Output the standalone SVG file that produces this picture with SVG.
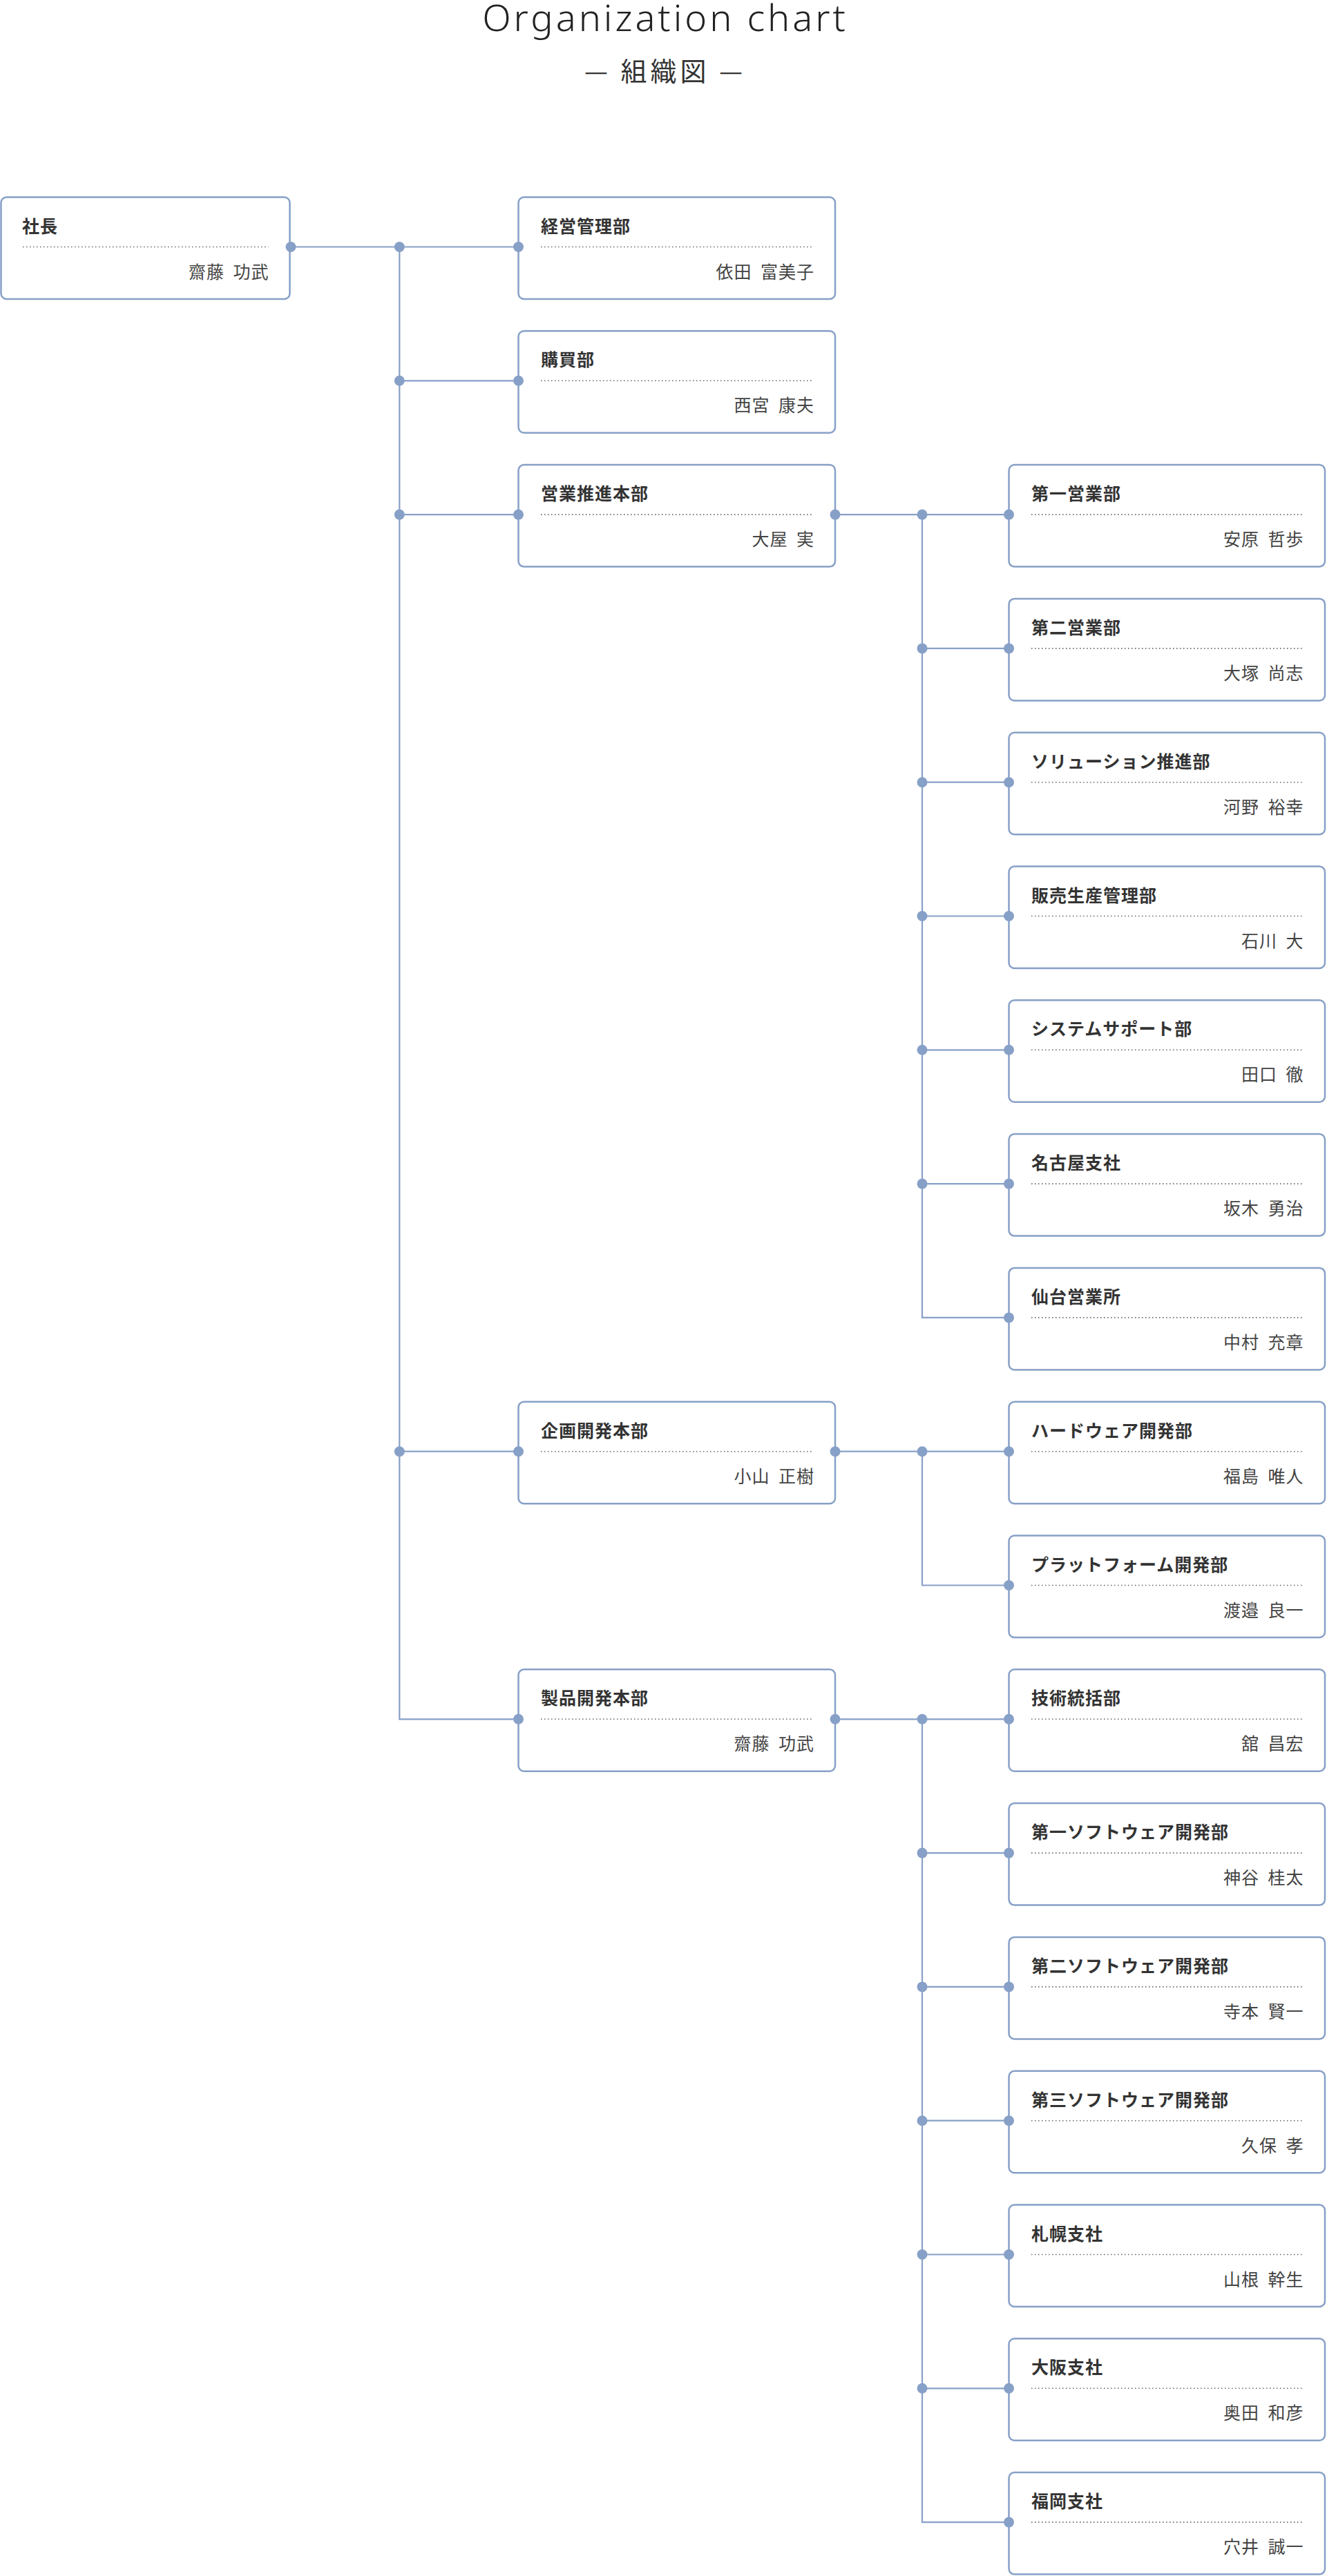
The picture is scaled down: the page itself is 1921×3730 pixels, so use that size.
<svg xmlns="http://www.w3.org/2000/svg" width="1921" height="3730" viewBox="0 0 1921 3730">
<style>
.bg{fill:#fff}
.box{fill:#fff;stroke:#87a0c7;stroke-width:2.5}
.ttl{font-family:"Noto Sans CJK JP","Noto Sans",sans-serif;font-weight:700;font-size:25px;fill:#333;letter-spacing:1px}
.nm{font-family:"Noto Sans CJK JP","Noto Sans",sans-serif;font-weight:400;font-size:25px;fill:#444;letter-spacing:1px;word-spacing:6px;text-anchor:end}
.sep{stroke:#666;stroke-width:1.6;stroke-dasharray:1.5 3.5;fill:none}
.conn{stroke:#87a0c7;stroke-width:2.2;fill:none}
.jn{fill:#87a0c7}
.head{font-family:"Noto Sans","Noto Sans CJK JP",sans-serif;font-weight:300;font-size:54px;fill:#222;text-anchor:middle;letter-spacing:4px}
.sub{font-family:"Noto Sans CJK JP",sans-serif;font-weight:400;font-size:38px;fill:#333;text-anchor:middle;letter-spacing:5px}
</style>
<defs>
<circle id="d" r="7.5" class="jn"/>
</defs>
<rect class="bg" x="0" y="0" width="1921" height="3730"/>
<g id="heading">
<text class="head" x="963" y="45">Organization chart</text>
<text class="sub" x="963" y="117">— 組織図 —</text>
</g>

<g id="nodes">
<g id="n-shacho" transform="translate(1.5,357.5)"><rect class="box" x="0" y="-72" width="418" height="147.5" rx="8"/><text class="ttl" x="30.5" y="-21">社長</text><line class="sep" x1="31.5" y1="0" x2="387" y2="0"/><text class="nm" x="388" y="45">齋藤 功武</text></g>

<g id="n-keiei" transform="translate(750.5,357.5)"><rect class="box" x="0" y="-72" width="458.5" height="147.5" rx="8"/><text class="ttl" x="32.5" y="-21">経営管理部</text><line class="sep" x1="32.5" y1="0" x2="427.5" y2="0"/><text class="nm" x="428.5" y="45">依田 富美子</text></g>
<g id="n-kobai" transform="translate(750.5,551.3)"><rect class="box" x="0" y="-72" width="458.5" height="147.5" rx="8"/><text class="ttl" x="32.5" y="-21">購買部</text><line class="sep" x1="32.5" y1="0" x2="427.5" y2="0"/><text class="nm" x="428.5" y="45">西宮 康夫</text></g>
<g id="n-eigyo" transform="translate(750.5,745.1)"><rect class="box" x="0" y="-72" width="458.5" height="147.5" rx="8"/><text class="ttl" x="32.5" y="-21">営業推進本部</text><line class="sep" x1="32.5" y1="0" x2="427.5" y2="0"/><text class="nm" x="428.5" y="45">大屋 実</text></g>
<g id="n-kikaku" transform="translate(750.5,2101.7)"><rect class="box" x="0" y="-72" width="458.5" height="147.5" rx="8"/><text class="ttl" x="32.5" y="-21">企画開発本部</text><line class="sep" x1="32.5" y1="0" x2="427.5" y2="0"/><text class="nm" x="428.5" y="45">小山 正樹</text></g>
<g id="n-seihin" transform="translate(750.5,2489.3)"><rect class="box" x="0" y="-72" width="458.5" height="147.5" rx="8"/><text class="ttl" x="32.5" y="-21">製品開発本部</text><line class="sep" x1="32.5" y1="0" x2="427.5" y2="0"/><text class="nm" x="428.5" y="45">齋藤 功武</text></g>

<g id="n-eigyo1" transform="translate(1460.5,745.1)"><rect class="box" x="0" y="-72" width="457.5" height="147.5" rx="8"/><text class="ttl" x="32.5" y="-21">第一営業部</text><line class="sep" x1="32.5" y1="0" x2="426" y2="0"/><text class="nm" x="427" y="45">安原 哲歩</text></g>
<g id="n-eigyo2" transform="translate(1460.5,938.9)"><rect class="box" x="0" y="-72" width="457.5" height="147.5" rx="8"/><text class="ttl" x="32.5" y="-21">第二営業部</text><line class="sep" x1="32.5" y1="0" x2="426" y2="0"/><text class="nm" x="427" y="45">大塚 尚志</text></g>
<g id="n-solution" transform="translate(1460.5,1132.7)"><rect class="box" x="0" y="-72" width="457.5" height="147.5" rx="8"/><text class="ttl" x="32.5" y="-21">ソリューション推進部</text><line class="sep" x1="32.5" y1="0" x2="426" y2="0"/><text class="nm" x="427" y="45">河野 裕幸</text></g>
<g id="n-hanbai" transform="translate(1460.5,1326.5)"><rect class="box" x="0" y="-72" width="457.5" height="147.5" rx="8"/><text class="ttl" x="32.5" y="-21">販売生産管理部</text><line class="sep" x1="32.5" y1="0" x2="426" y2="0"/><text class="nm" x="427" y="45">石川 大</text></g>
<g id="n-system" transform="translate(1460.5,1520.3)"><rect class="box" x="0" y="-72" width="457.5" height="147.5" rx="8"/><text class="ttl" x="32.5" y="-21">システムサポート部</text><line class="sep" x1="32.5" y1="0" x2="426" y2="0"/><text class="nm" x="427" y="45">田口 徹</text></g>
<g id="n-nagoya" transform="translate(1460.5,1714.1)"><rect class="box" x="0" y="-72" width="457.5" height="147.5" rx="8"/><text class="ttl" x="32.5" y="-21">名古屋支社</text><line class="sep" x1="32.5" y1="0" x2="426" y2="0"/><text class="nm" x="427" y="45">坂木 勇治</text></g>
<g id="n-sendai" transform="translate(1460.5,1907.9)"><rect class="box" x="0" y="-72" width="457.5" height="147.5" rx="8"/><text class="ttl" x="32.5" y="-21">仙台営業所</text><line class="sep" x1="32.5" y1="0" x2="426" y2="0"/><text class="nm" x="427" y="45">中村 充章</text></g>
<g id="n-hardware" transform="translate(1460.5,2101.7)"><rect class="box" x="0" y="-72" width="457.5" height="147.5" rx="8"/><text class="ttl" x="32.5" y="-21">ハードウェア開発部</text><line class="sep" x1="32.5" y1="0" x2="426" y2="0"/><text class="nm" x="427" y="45">福島 唯人</text></g>
<g id="n-platform" transform="translate(1460.5,2295.5)"><rect class="box" x="0" y="-72" width="457.5" height="147.5" rx="8"/><text class="ttl" x="32.5" y="-21">プラットフォーム開発部</text><line class="sep" x1="32.5" y1="0" x2="426" y2="0"/><text class="nm" x="427" y="45">渡邉 良一</text></g>
<g id="n-gijutsu" transform="translate(1460.5,2489.3)"><rect class="box" x="0" y="-72" width="457.5" height="147.5" rx="8"/><text class="ttl" x="32.5" y="-21">技術統括部</text><line class="sep" x1="32.5" y1="0" x2="426" y2="0"/><text class="nm" x="427" y="45">舘 昌宏</text></g>
<g id="n-soft1" transform="translate(1460.5,2683.1)"><rect class="box" x="0" y="-72" width="457.5" height="147.5" rx="8"/><text class="ttl" x="32.5" y="-21">第一ソフトウェア開発部</text><line class="sep" x1="32.5" y1="0" x2="426" y2="0"/><text class="nm" x="427" y="45">神谷 桂太</text></g>
<g id="n-soft2" transform="translate(1460.5,2876.9)"><rect class="box" x="0" y="-72" width="457.5" height="147.5" rx="8"/><text class="ttl" x="32.5" y="-21">第二ソフトウェア開発部</text><line class="sep" x1="32.5" y1="0" x2="426" y2="0"/><text class="nm" x="427" y="45">寺本 賢一</text></g>
<g id="n-soft3" transform="translate(1460.5,3070.7)"><rect class="box" x="0" y="-72" width="457.5" height="147.5" rx="8"/><text class="ttl" x="32.5" y="-21">第三ソフトウェア開発部</text><line class="sep" x1="32.5" y1="0" x2="426" y2="0"/><text class="nm" x="427" y="45">久保 孝</text></g>
<g id="n-sapporo" transform="translate(1460.5,3264.5)"><rect class="box" x="0" y="-72" width="457.5" height="147.5" rx="8"/><text class="ttl" x="32.5" y="-21">札幌支社</text><line class="sep" x1="32.5" y1="0" x2="426" y2="0"/><text class="nm" x="427" y="45">山根 幹生</text></g>
<g id="n-osaka" transform="translate(1460.5,3458.3)"><rect class="box" x="0" y="-72" width="457.5" height="147.5" rx="8"/><text class="ttl" x="32.5" y="-21">大阪支社</text><line class="sep" x1="32.5" y1="0" x2="426" y2="0"/><text class="nm" x="427" y="45">奥田 和彦</text></g>
<g id="n-fukuoka" transform="translate(1460.5,3652.1)"><rect class="box" x="0" y="-72" width="457.5" height="147.5" rx="8"/><text class="ttl" x="32.5" y="-21">福岡支社</text><line class="sep" x1="32.5" y1="0" x2="426" y2="0"/><text class="nm" x="427" y="45">穴井 誠一</text></g>
</g>

<g id="connectors">
<path class="conn" d="M421,357.5 H750.5 M578.3,357.5 V2489.3 H750.5 M578.3,551.3 H750.5 M578.3,745.1 H750.5 M578.3,2101.7 H750.5"/>
<path class="conn" d="M1209,745.1 H1460.5 M1335,745.1 V1907.9 H1460.5 M1335,938.9 H1460.5 M1335,1132.7 H1460.5 M1335,1326.5 H1460.5 M1335,1520.3 H1460.5 M1335,1714.1 H1460.5"/>
<path class="conn" d="M1209,2101.7 H1460.5 M1335,2101.7 V2295.5 H1460.5"/>
<path class="conn" d="M1209,2489.3 H1460.5 M1335,2489.3 V3652.1 H1460.5 M1335,2683.1 H1460.5 M1335,2876.9 H1460.5 M1335,3070.7 H1460.5 M1335,3264.5 H1460.5 M1335,3458.3 H1460.5"/>
<g id="junctions">
<use href="#d" x="421" y="357.5"/><use href="#d" x="578.3" y="357.5"/><use href="#d" x="750.5" y="357.5"/>
<use href="#d" x="578.3" y="551.3"/><use href="#d" x="750.5" y="551.3"/>
<use href="#d" x="578.3" y="745.1"/><use href="#d" x="750.5" y="745.1"/>
<use href="#d" x="578.3" y="2101.7"/><use href="#d" x="750.5" y="2101.7"/>
<use href="#d" x="750.5" y="2489.3"/>
<use href="#d" x="1209" y="745.1"/><use href="#d" x="1335" y="745.1"/><use href="#d" x="1460.5" y="745.1"/>
<use href="#d" x="1335" y="938.9"/><use href="#d" x="1460.5" y="938.9"/>
<use href="#d" x="1335" y="1132.7"/><use href="#d" x="1460.5" y="1132.7"/>
<use href="#d" x="1335" y="1326.5"/><use href="#d" x="1460.5" y="1326.5"/>
<use href="#d" x="1335" y="1520.3"/><use href="#d" x="1460.5" y="1520.3"/>
<use href="#d" x="1335" y="1714.1"/><use href="#d" x="1460.5" y="1714.1"/>
<use href="#d" x="1460.5" y="1907.9"/>
<use href="#d" x="1209" y="2101.7"/><use href="#d" x="1335" y="2101.7"/><use href="#d" x="1460.5" y="2101.7"/>
<use href="#d" x="1460.5" y="2295.5"/>
<use href="#d" x="1209" y="2489.3"/><use href="#d" x="1335" y="2489.3"/><use href="#d" x="1460.5" y="2489.3"/>
<use href="#d" x="1335" y="2683.1"/><use href="#d" x="1460.5" y="2683.1"/>
<use href="#d" x="1335" y="2876.9"/><use href="#d" x="1460.5" y="2876.9"/>
<use href="#d" x="1335" y="3070.7"/><use href="#d" x="1460.5" y="3070.7"/>
<use href="#d" x="1335" y="3264.5"/><use href="#d" x="1460.5" y="3264.5"/>
<use href="#d" x="1335" y="3458.3"/><use href="#d" x="1460.5" y="3458.3"/>
<use href="#d" x="1460.5" y="3652.1"/>
</g>
</g>
</svg>
